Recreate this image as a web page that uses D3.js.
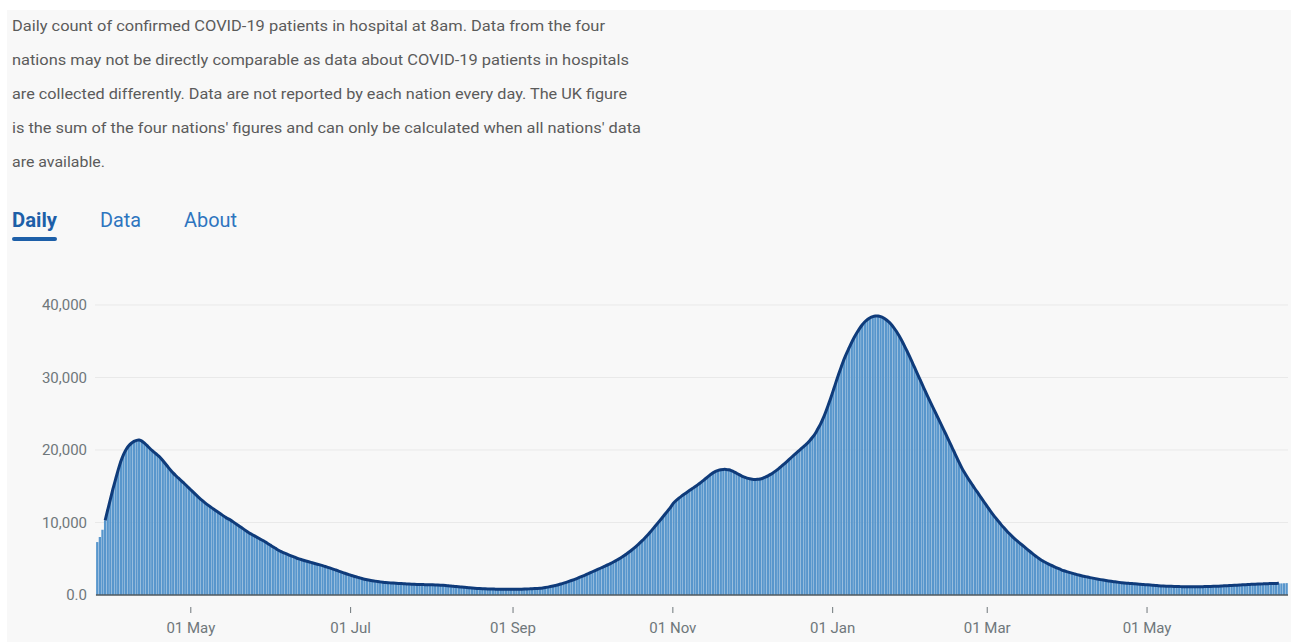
<!DOCTYPE html>
<html>
<head>
<meta charset="utf-8">
<script src="https://cdn.jsdelivr.net/npm/d3@7"></script>
<style>
  body { margin: 0; background: #ffffff; }
  svg { display: block; font-family: Roboto, "Noto Sans", sans-serif; }
</style>
</head>
<body>
<div id="container"></div>
<script>
/***** Text content  ******/
var descLines = [
  "Daily count of confirmed COVID-19 patients in hospital at 8am. Data from the four",
  "nations may not be directly comparable as data about COVID-19 patients in hospitals",
  "are collected differently. Data are not reported by each nation every day. The UK figure",
  "is the sum of the four nations' figures and can only be calculated when all nations' data",
  "are available."
];
var tabNames = ["Daily", "Data", "About"];

/***** Axis ticks  ******/
var yTickValues = [0, 10000, 20000, 30000, 40000];
var yTickLabels = ["0.0", "10,000", "20,000", "30,000", "40,000"];

/***** Daily patients in hospital, one array per month (first day 26 Mar 2020)  ******/
var firstDay = "2020-03-26";
var mar2020 = [7300, 8000, 9000, 10300, 11800, 13200];
var apr2020 = [14700, 16000, 17300, 18500, 19400, 20100, 20600, 20950, 21200, 21350,
               21400, 21250, 20950, 20600, 20230, 19900, 19600, 19300, 19000, 18550,
               18100, 17650, 17200, 16800, 16450, 16100, 15800, 15450, 15100, 14750];
var may2020 = [14400, 14050, 13700, 13350, 13050, 12750, 12450, 12200, 11950, 11700,
               11450, 11200, 10950, 10700, 10500, 10300, 10050, 9800, 9550, 9300,
               9050, 8800, 8550, 8350, 8150, 7950, 7750, 7550, 7350, 7100, 6900];
var jun2020 = [6650, 6450, 6200, 6000, 5850, 5700, 5550, 5400, 5250, 5100,
               4980, 4870, 4760, 4650, 4550, 4450, 4350, 4250, 4150, 4050,
               3940, 3820, 3700, 3580, 3450, 3320, 3190, 3060, 2930, 2800];
var jul2020 = [2690, 2580, 2480, 2380, 2280, 2180, 2100, 2030, 1970, 1910,
               1860, 1810, 1770, 1730, 1700, 1670, 1640, 1610, 1590, 1570,
               1550, 1530, 1510, 1490, 1470, 1460, 1450, 1440, 1430, 1420, 1410];
var aug2020 = [1400, 1390, 1380, 1360, 1330, 1300, 1270, 1240, 1200, 1170,
               1130, 1100, 1060, 1030, 990, 960, 930, 910, 890, 870,
               850, 840, 830, 820, 810, 800, 790, 785, 780, 780, 780];
var sep2020 = [785, 790, 800, 810, 820, 830, 845, 860, 880, 900,
               920, 960, 1020, 1090, 1160, 1240, 1330, 1420, 1520, 1630,
               1750, 1870, 2000, 2130, 2270, 2420, 2570, 2720, 2880, 3040];
var oct2020 = [3210, 3370, 3530, 3690, 3850, 4010, 4180, 4360, 4550, 4750,
               4950, 5160, 5400, 5650, 5920, 6200, 6500, 6820, 7150, 7500,
               7870, 8250, 8650, 9080, 9520, 9950, 10380, 10830, 11280, 11730, 12180];
var nov2020 = [12750, 13050, 13350, 13650, 13900, 14150, 14400, 14650, 14900, 15150,
               15400, 15700, 16000, 16300, 16600, 16850, 17050, 17200, 17300, 17330,
               17330, 17280, 17150, 17000, 16800, 16600, 16400, 16250, 16120, 16030];
var dec2020 = [15970, 15940, 15950, 16000, 16100, 16250, 16420, 16630, 16870, 17120,
               17400, 17700, 18020, 18340, 18670, 19000, 19320, 19640, 19960, 20280,
               20600, 20900, 21300, 21750, 22200, 22900, 23500, 24300, 25200, 26200, 27200];
var jan2021 = [28300, 29400, 30500, 31500, 32500, 33350, 34100, 34900, 35600, 36200,
               36800, 37300, 37700, 38000, 38250, 38400, 38500, 38500, 38400, 38250,
               38000, 37700, 37350, 36900, 36400, 35800, 35150, 34450, 33700, 32950, 32150];
var feb2021 = [31350, 30550, 29750, 28950, 28150, 27350, 26600, 25850, 25100, 24350,
               23600, 22850, 22100, 21350, 20550, 19800, 19000, 18250, 17500, 16900,
               16300, 15750, 15200, 14650, 14150, 13600, 13100, 12550];
var mar2021 = [12050, 11550, 11050, 10600, 10150, 9700, 9300, 8900, 8500, 8150,
               7800, 7500, 7200, 6900, 6600, 6300, 6000, 5700, 5420, 5150,
               4880, 4680, 4480, 4290, 4110, 3940, 3780, 3620, 3470, 3350, 3230];
var apr2021 = [3120, 3010, 2910, 2810, 2720, 2630, 2550, 2470, 2400, 2330,
               2260, 2190, 2120, 2060, 2000, 1940, 1890, 1840, 1790, 1740,
               1700, 1660, 1630, 1600, 1570, 1540, 1510, 1480, 1450, 1420];
var may2021 = [1400, 1370, 1340, 1310, 1280, 1250, 1230, 1210, 1200, 1190,
               1180, 1170, 1160, 1150, 1145, 1140, 1140, 1135, 1135, 1140,
               1145, 1150, 1160, 1170, 1180, 1190, 1200, 1220, 1240, 1260, 1280];
var jun2021 = [1300, 1320, 1340, 1360, 1380, 1400, 1420, 1440, 1460, 1475,
               1490, 1505, 1520, 1535, 1550, 1565, 1580, 1590, 1600, 1610,
               1600, 1620, 1640];

var patients = [].concat(mar2020, apr2020, may2020, jun2020, jul2020, aug2020, sep2020,
                         oct2020, nov2020, dec2020, jan2021, feb2021, mar2021, apr2021,
                         may2021, jun2021);

/***** Page layout  ******/
var W = 1291, H = 642;
var plot = {left: 96, right: 1288, top: 305, bottom: 595};
var descLineWidths = [593, 617, 615, 629, 93];

var svg = d3.select("#container")
            .append("svg")
            .attr("width", W)
            .attr("height", H);

svg.append("rect")
   .attr("x", 7)
   .attr("y", 10)
   .attr("width", W - 7)
   .attr("height", H - 10)
   .attr("fill", "#f8f8f8");

/***** Description text  ******/
svg.append("g")
   .selectAll("text")
   .data(descLines)
   .enter()
   .append("text")
   .attr("x", 12)
   .attr("y", function(d, i) { return 31 + i * 34; })
   .attr("textLength", function(d, i) { return descLineWidths[i]; })
   .attr("lengthAdjust", "spacingAndGlyphs")
   .style("font-size", "15px")
   .style("fill", "#5b5b5b")
   .text(function(d) { return d; });

/***** Tabs  ******/
var tabX = [12, 100, 184];
var tabW = [45, 41, 53];
svg.append("g")
   .selectAll("text")
   .data(tabNames)
   .enter()
   .append("text")
   .attr("x", function(d, i) { return tabX[i]; })
   .attr("y", 227)
   .attr("textLength", function(d, i) { return tabW[i]; })
   .attr("lengthAdjust", "spacingAndGlyphs")
   .style("font-size", "21px")
   .style("font-weight", function(d, i) { return i == 0 ? "700" : "400"; })
   .style("fill", function(d, i) { return i == 0 ? "#1d5fa8" : "#2e75bf"; })
   .text(function(d) { return d; });

svg.append("rect")
   .attr("x", 12)
   .attr("y", 237)
   .attr("width", 45)
   .attr("height", 4)
   .attr("rx", 2)
   .attr("fill", "#1d5fa8");

/***** Scales  ******/
var start = d3.timeParse("%Y-%m-%d")(firstDay);
var data = patients.map(function(v, i) {
    return {date: d3.timeDay.offset(start, i), value: v};
});

var x = d3.scaleTime()
          .domain([start, d3.timeDay.offset(start, patients.length)])
          .range([plot.left, plot.right]);

var y = d3.scaleLinear()
          .domain([0, 40000])
          .range([plot.bottom, plot.top]);

var step = x(d3.timeDay.offset(start, 1)) - x(start);

/***** Grid and y axis  ******/
svg.append("g")
   .selectAll("line")
   .data(yTickValues)
   .enter()
   .append("line")
   .attr("x1", plot.left - 1)
   .attr("x2", plot.right)
   .attr("y1", function(d) { return y(d); })
   .attr("y2", function(d) { return y(d); })
   .attr("stroke", "#e9e9e9")
   .attr("stroke-width", 1);

var yAxis = svg.append("g")
   .attr("transform", "translate(" + (plot.left - 1) + ",0)")
   .call(d3.axisLeft(y)
           .tickValues(yTickValues)
           .tickFormat(function(d, i) { return yTickLabels[i]; })
           .tickSize(0)
           .tickPadding(8));
yAxis.select(".domain").remove();
yAxis.selectAll("text")
     .style("font-family", "Roboto, sans-serif")
     .style("font-size", "15px")
     .style("fill", "#6f777b");

/***** Bars  ******/
svg.append("g")
   .selectAll("rect")
   .data(data)
   .enter()
   .append("rect")
   .attr("x", function(d) { return x(d.date) + 0.1; })
   .attr("y", function(d) { return y(d.value); })
   .attr("width", step - 0.3)
   .attr("height", function(d) { return plot.bottom - y(d.value); })
   .attr("fill", "#5896cc");

/***** Line  ******/
var line = d3.line()
             .x(function(d) { return x(d.date) + step / 2; })
             .y(function(d) { return y(d.value); })
             .curve(d3.curveBasis);

svg.append("path")
   .datum(data.slice(3, patients.length - 3))
   .attr("d", line)
   .attr("fill", "none")
   .attr("stroke", "#0f3b7a")
   .attr("stroke-width", 3)
   .attr("stroke-linejoin", "round");

/***** X axis  ******/
svg.append("line")
   .attr("x1", plot.left)
   .attr("x2", plot.right)
   .attr("y1", plot.bottom)
   .attr("y2", plot.bottom)
   .attr("stroke", "#505a5f")
   .attr("stroke-width", 1.5);

var xAxis = svg.append("g")
   .attr("transform", "translate(0,607)")
   .call(d3.axisBottom(x)
           .ticks(d3.timeMonth.every(2))
           .tickFormat(d3.timeFormat("%d %b"))
           .tickSize(6)
           .tickPadding(9));
xAxis.select(".domain").remove();
xAxis.selectAll(".tick line").attr("stroke", "#6f777b");
xAxis.selectAll("text")
     .style("font-family", "Roboto, sans-serif")
     .style("font-size", "15px")
     .style("fill", "#6f777b");
</script>
</body>
</html>
